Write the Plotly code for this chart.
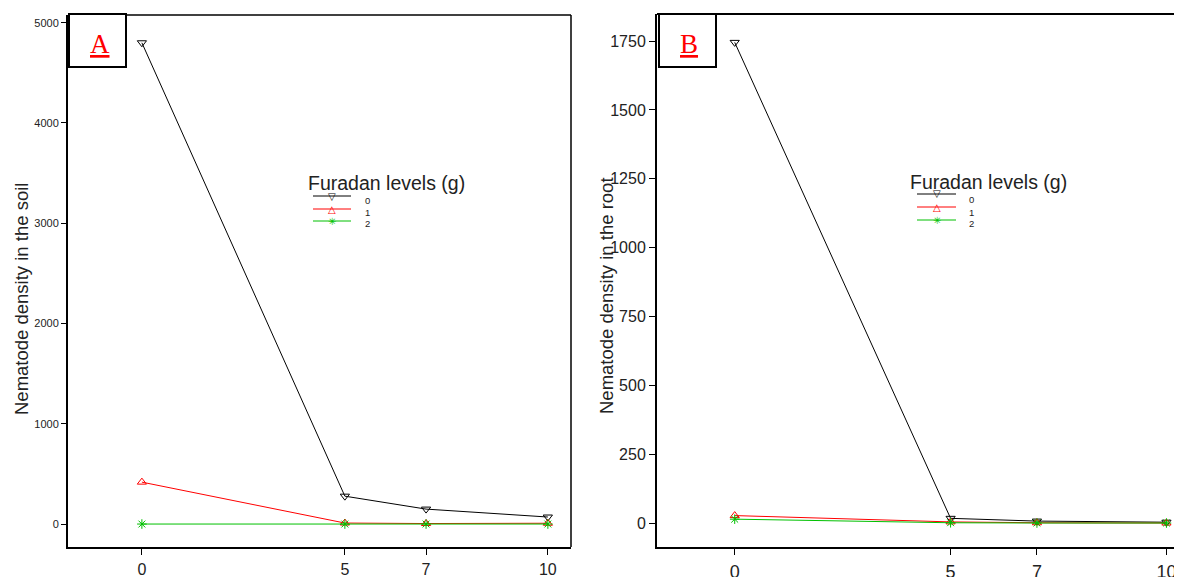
import plotly.graph_objects as go

# ---------------- data ----------------
days = [0, 5, 7, 10]
levels = ["0", "1", "2"]
soil_0 = [4800, 278, 149, 70]
soil_1 = [418, 10, 5, 8]
soil_2 = [0, 0, 0, 0]
root_0 = [1745, 18, 8, 4]
root_1 = [28, 5, 2, 1]
root_2 = [15, 2, 1, 1]

soil_ticks = [0, 1000, 2000, 3000, 4000, 5000]
root_ticks = [0, 250, 500, 750, 1000, 1250, 1500, 1750]

OFF = 8  # page body margin
W, H = 1182 - OFF, 577 - OFF
def px(x):
    return (x - OFF) / W
def py(y):
    return 1 - (y - OFF) / H

colors = ["black", "red", "#00c000"]
symbols = ["triangle-down-open", "triangle-up-open", "asterisk-open"]
sizes = [8, 8, 8]

fig = go.Figure()
for i, ys in enumerate([soil_0, soil_1, soil_2]):
    fig.add_trace(go.Scatter(x=days, y=ys, mode="lines+markers", xaxis="x", yaxis="y",
                             line=dict(color=colors[i], width=1),
                             marker=dict(symbol=symbols[i], size=sizes[i], color=colors[i],
                                         line=dict(width=1, color=colors[i])),
                             name=levels[i], showlegend=False))
for i, ys in enumerate([root_0, root_1, root_2]):
    fig.add_trace(go.Scatter(x=days, y=ys, mode="lines+markers", xaxis="x2", yaxis="y2",
                             line=dict(color=colors[i], width=1),
                             marker=dict(symbol=symbols[i], size=sizes[i], color=colors[i],
                                         line=dict(width=1, color=colors[i])),
                             name=levels[i], showlegend=False))

axis_common = dict(showgrid=False, zeroline=False, showline=True, linecolor="black",
                   linewidth=2, ticks="outside", tickcolor="black", tickwidth=1,
                   automargin=False)

fig.update_layout(
    width=W, height=H,
    margin=dict(l=0, r=0, t=0, b=0),
    paper_bgcolor="white", plot_bgcolor="white",
    font=dict(family="Liberation Sans, Arial", color="#222222"),
    xaxis=dict(domain=[px(68), px(571)], range=[-1.82, 10.57], tickvals=days,
               ticklen=6, tickfont=dict(size=16), ticklabelstandoff=1, anchor="y", **axis_common),
    yaxis=dict(domain=[py(547), py(15)], range=[-229, 5077], tickvals=soil_ticks,
               ticklen=5, tickfont=dict(size=11), anchor="x", **axis_common),
    xaxis2=dict(domain=[px(657), 1.0], range=[-1.80, 10.36], tickvals=days,
                ticklen=6, tickfont=dict(size=18), ticklabelstandoff=1, anchor="y2", **axis_common),
    yaxis2=dict(domain=[py(547), py(14)], range=[-86, 1848], tickvals=root_ticks,
                ticklen=6, tickfont=dict(size=16), anchor="x2", **axis_common),
)

shapes = []
# frame lines
shapes.append(dict(type="line", xref="paper", yref="paper", x0=px(68), x1=px(571), y0=py(15), y1=py(15),
                   line=dict(color="black", width=1.5)))
shapes.append(dict(type="line", xref="paper", yref="paper", x0=px(571), x1=px(571), y0=py(15), y1=py(547),
                   line=dict(color="black", width=1.5)))
shapes.append(dict(type="line", xref="paper", yref="paper", x0=px(657), x1=1.0, y0=py(14), y1=py(14),
                   line=dict(color="black", width=2)))
# panel label boxes
for (x0, x1) in [(69, 126), (659, 716)]:
    shapes.append(dict(type="rect", xref="paper", yref="paper", x0=px(x0), x1=px(x1), y0=py(14), y1=py(67),
                       line=dict(color="black", width=2), fillcolor="white"))

annotations = []
for txt, cx in [("A", 100), ("B", 689)]:
    annotations.append(dict(text="<u>%s</u>" % txt, xref="paper", yref="paper", x=px(cx), y=py(44),
                            xanchor="center", yanchor="middle", showarrow=False,
                            font=dict(family="Liberation Serif", size=27, color="red")))

# axis titles
annotations.append(dict(text="Nematode density in the soil", xref="paper", yref="paper", x=px(21), y=py(299),
                        textangle=-90, showarrow=False, xanchor="center", yanchor="middle",
                        font=dict(size=18.5, color="#222222")))
annotations.append(dict(text="Nematode density in the root", xref="paper", yref="paper", x=px(606), y=py(296),
                        textangle=-90, showarrow=False, xanchor="center", yanchor="middle",
                        font=dict(size=18.5, color="#222222")))

# manual legends
legend_specs = [
    dict(tx=306, ty=183, lx0=313, lx1=351, mx=332, ly=[196, 209, 221], labx=363, laby=[200, 212, 224]),
    dict(tx=908, ty=182, lx0=917, lx1=956, mx=937, ly=[194, 207, 220], labx=967, laby=[199, 212, 224]),
]
marker_chars = ["▽", "△", "✳"]
for spec in legend_specs:
    annotations.append(dict(text="Furadan levels (g)", xref="paper", yref="paper", x=px(spec["tx"]), y=py(spec["ty"]),
                            xanchor="left", yanchor="middle", showarrow=False,
                            font=dict(size=19.5, color="#222222")))
    for i in range(3):
        shapes.append(dict(type="line", xref="paper", yref="paper", x0=px(spec["lx0"]), x1=px(spec["lx1"]),
                           y0=py(spec["ly"][i]), y1=py(spec["ly"][i]),
                           line=dict(color=colors[i], width=1)))
        annotations.append(dict(text=marker_chars[i], xref="paper", yref="paper", x=px(spec["mx"]),
                                y=py(spec["ly"][i]), xanchor="center", yanchor="middle", showarrow=False,
                                font=dict(family="DejaVu Sans", size=10, color=colors[i])))
        annotations.append(dict(text=levels[i], xref="paper", yref="paper", x=px(spec["labx"]),
                                y=py(spec["laby"][i]), xanchor="left", yanchor="middle", showarrow=False,
                                font=dict(size=9.5, color="#222222")))

fig.update_layout(shapes=shapes, annotations=annotations)
fig.write_html("out.html")
